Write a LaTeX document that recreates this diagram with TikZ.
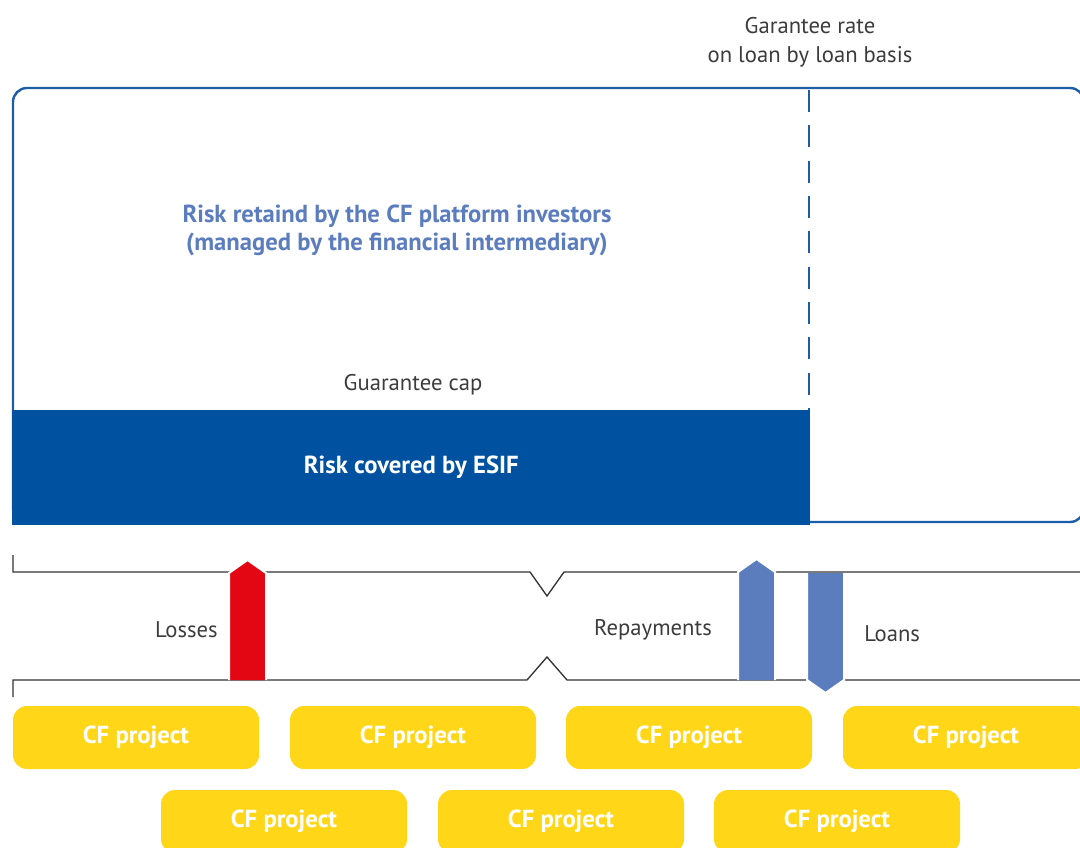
\documentclass[tikz,border=0pt]{standalone}
\usepackage{fontspec}
\setmainfont{PT Sans}
\definecolor{esifblue}{HTML}{0051A0}
\definecolor{boxblue}{HTML}{1B5DA8}
\definecolor{lightblue}{HTML}{5B7DBE}
\definecolor{lossred}{HTML}{E30613}
\definecolor{cfyellow}{HTML}{FFD618}
\definecolor{textgray}{HTML}{3C3C3C}
\definecolor{linegray}{HTML}{333333}
\begin{document}
\begin{tikzpicture}[x=0.75pt,y=-0.75pt,
  lbl/.style={font=\fontsize{17}{21.75}\selectfont, text=textgray, inner sep=0pt},
  boldfont/.style={font=\fontsize{18.5}{21}\selectfont\bfseries},
  cfbox/.style={fill=cfyellow, rounded corners=10.5pt, minimum width=184.5pt, minimum height=47.25pt, inner sep=0pt, text=white, boldfont},
  bracket/.style={draw=linegray, line width=1pt},
  flow/.style={draw=white, line width=1.5pt},
  boxline/.style={draw=boxblue, line width=1.8pt}]
\useasboundingbox (0,0) rectangle (1080,848);
% main box
\draw[boxline, rounded corners=10.5pt] (13,88) rectangle (1084,522);
\node[fill=esifblue, anchor=north west, minimum width=598.5pt, minimum height=86pt, inner sep=0pt,
  text=white, boldfont] (esif) at (12,410) {Risk covered by ESIF};
\draw[draw=boxblue, line width=1.5pt, dash pattern=on 16.5pt off 10pt] (809,90) -- (809,410);
\node[lbl, align=center] (rate) at (810,42) {Garantee rate\\on loan by loan basis};
\node[lbl, align=center, text=lightblue, boldfont] (retained) at (397,230)
  {Risk retaind by the CF platform investors\\(managed by the financial intermediary)};
\node[lbl] (cap) at (413,385) {Guarantee cap};
% bracket lines
\coordinate (tl0) at (13,555);
\coordinate (bl0) at (13,697);
\draw[bracket] (tl0) -- (13,572) -- (530,572) -- (547,596) -- (564,572) -- (1084,572);
\draw[bracket] (bl0) -- (13,680) -- (527,680) -- (547,657) -- (567,680) -- (1084,680);
% arrows
\fill[lossred] (229,680) -- (229,573) -- (247.5,560) -- (266,573) -- (266,680) -- cycle;
\draw[flow] (229,680) -- (229,573) -- (247.5,560) -- (266,573) -- (266,680);
\fill[lightblue] (738,680) -- (738,572) -- (756.5,559) -- (775,572) -- (775,680) -- cycle;
\draw[flow] (738,680) -- (738,572) -- (756.5,559) -- (775,572) -- (775,680);
\fill[lightblue] (807,573) -- (844,573) -- (844,680) -- (825.5,693) -- (807,680) -- cycle;
\draw[flow] (807,573) -- (807,680) -- (825.5,693) -- (844,680) -- (844,573);
\node[lbl, anchor=east] (losses) at (218,630) {Losses};
\node[lbl] (repay) at (653,630) {Repayments};
\node[lbl, anchor=west] (loans) at (864,634) {Loans};
% CF projects
\node[cfbox] (p1) at (136,737.5) {CF project};
\node[cfbox] (p2) at (413,737.5) {CF project};
\node[cfbox] (p3) at (689,737.5) {CF project};
\node[cfbox] (p4) at (966,737.5) {CF project};
\node[cfbox] (p5) at (284,821.5) {CF project};
\node[cfbox] (p6) at (561,821.5) {CF project};
\node[cfbox] (p7) at (837,821.5) {CF project};
\end{tikzpicture}
\end{document}
